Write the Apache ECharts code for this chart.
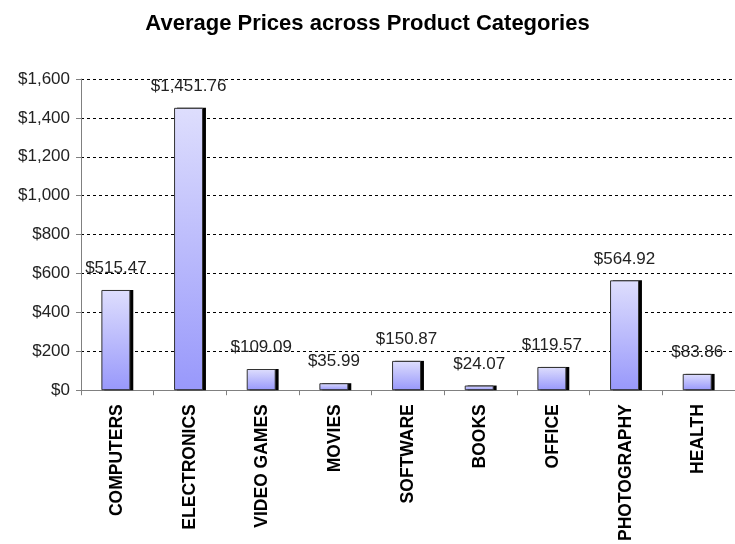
<!DOCTYPE html>
<html>
<head>
<meta charset="utf-8">
<script src="https://cdn.jsdelivr.net/npm/echarts@6/dist/echarts.min.js"></script>
<style>
html,body{margin:0;padding:0;background:#fff;}
#chart{width:735px;height:544px;}
</style>
</head>
<body>
<div id="chart"></div>
<script>
const titleText = 'Average Prices across Product Categories';
const categories = ['COMPUTERS','ELECTRONICS','VIDEO GAMES','MOVIES','SOFTWARE','BOOKS','OFFICE','PHOTOGRAPHY','HEALTH'];
const prices = [515.47, 1451.76, 109.09, 35.99, 150.87, 24.07, 119.57, 564.92, 83.86];
const yMin = 0, yMax = 1600, yStep = 200;

function money(v, dec) {
  const s = Number(v).toFixed(dec);
  const parts = s.split('.');
  parts[0] = parts[0].replace(/\B(?=(\d{3})+(?!\d))/g, ',');
  return '$' + parts.join('.');
}

const FONT = 'Liberation Sans, Arial, sans-serif';
const chart = echarts.init(document.getElementById('chart'), null, {renderer:'canvas'});
chart.setOption({
  backgroundColor: '#ffffff',
  animation: false,
  title: {
    text: titleText,
    left: 'center',
    top: 8,
    textStyle: {fontFamily: FONT, fontWeight: 'bold', fontSize: 22, color: '#000'}
  },
  grid: {left: 81, right: -8, top: 79, bottom: 152, containLabel: false},
  xAxis: {
    type: 'category',
    data: categories,
    boundaryGap: true,
    axisLine: {show: true, lineStyle: {color: '#808080', width: 1}},
    axisTick: {show: true, length: 5, alignWithLabel: false, lineStyle: {color: '#808080'}},
    axisLabel: {
      rotate: 90, margin: 14, interval: 0,
      fontFamily: FONT, fontWeight: 'bold', fontSize: 17.5, color: '#000'
    },
    splitLine: {show: false}
  },
  yAxis: {
    type: 'value',
    min: yMin, max: yMax, interval: yStep,
    axisLine: {show: true, lineStyle: {color: '#808080', width: 1}},
    axisTick: {show: true, length: 5, lineStyle: {color: '#808080'}},
    axisLabel: {
      margin: 11,
      fontFamily: FONT, fontSize: 17, color: '#222',
      formatter: v => money(v, 0)
    },
    splitLine: {show: true, lineStyle: {color: '#000', type: [3, 3], width: 1}}
  },
  series: [{
    name: 'Average price',
    type: 'bar',
    data: prices,
    barWidth: 29,
    barGap: '-90%',
    z: 3,
    itemStyle: {
      color: new echarts.graphic.LinearGradient(0, 0, 0, 1, [
        {offset: 0, color: '#dedefd'},
        {offset: 1, color: '#9898fb'}
      ]),
      borderColor: '#333',
      borderWidth: 1
    },
    label: {
      show: true,
      position: 'top',
      distance: 13,
      fontFamily: FONT,
      fontSize: 17,
      color: '#222',
      formatter: p => money(p.value, 2)
    }
  }, {
    name: 'shadow',
    type: 'bar',
    data: prices,
    barWidth: 29,
    z: 2,
    silent: true,
    itemStyle: {color: '#000'},
    label: {show: false}
  }]
});
</script>
</body>
</html>
